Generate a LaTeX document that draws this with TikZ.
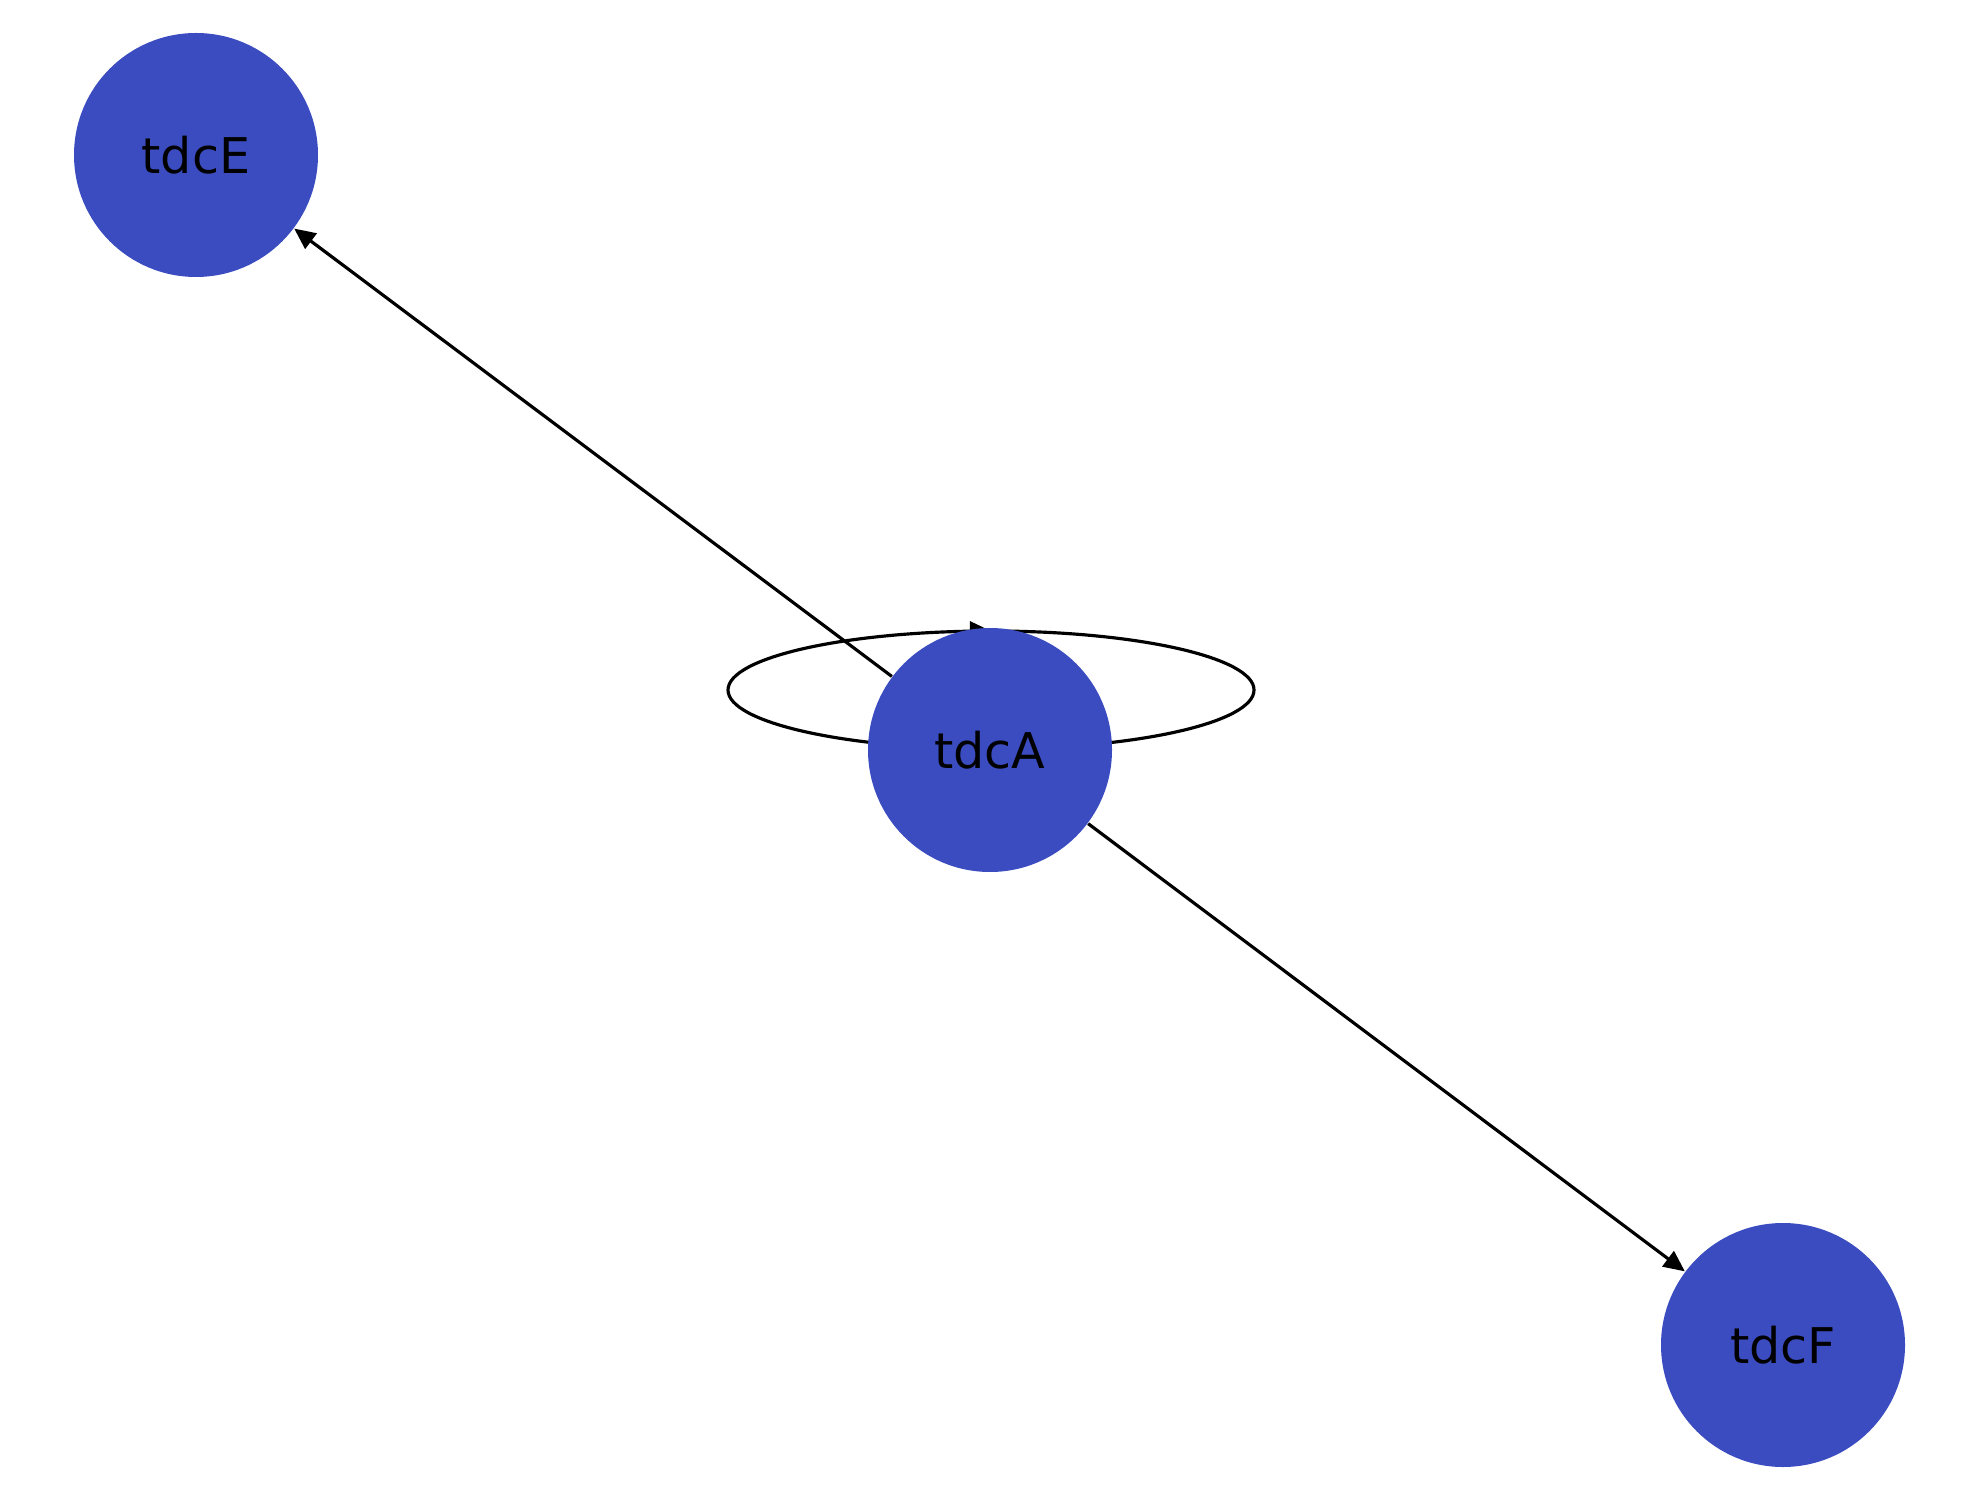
\documentclass[tikz,border=0pt]{standalone}
\usepackage{fontspec}
\setmainfont{DejaVu Sans}
\usepackage{tikz}
\usetikzlibrary{arrows.meta, backgrounds, decorations.markings}
\definecolor{nodeblue}{RGB}{59,76,192}
\tikzset{
	tdcnode/.style={circle, fill=nodeblue, minimum size=2.44cm, inner sep=0pt, font=\fontsize{14}{16}\selectfont},
	tdcedge/.style={line width=0.9pt, -{Triangle[length=6pt, width=5.4pt]}},
	tdcloop/.style={line width=0.9pt, postaction={decorate}, decoration={markings, mark=at position 0.25 with {\arrowreversed{Triangle[length=6pt, width=5.4pt]}}}}
}

\begin{document}
\begin{tikzpicture}
	\useasboundingbox (0,0) rectangle (19.8,15);
	
% nodes
	\node[tdcnode] (tdcE) at (1.96,13.45) {tdcE};
	\node[tdcnode] (tdcA) at (9.90,7.50) {tdcA};
	\node[tdcnode] (tdcF) at (17.83,1.55) {tdcF};
	
% edges, behind the nodes
	\begin{scope}[on background layer]
		\draw[tdcedge] (tdcA) -- (tdcE);
		\draw[tdcedge] (tdcA) -- (tdcF);
		
		% self loop
		\draw[tdcloop] (tdcA.center) ++(0.01,0.60) ellipse [x radius=2.63, y radius=0.59];
	\end{scope}

\end{tikzpicture}
\end{document}
